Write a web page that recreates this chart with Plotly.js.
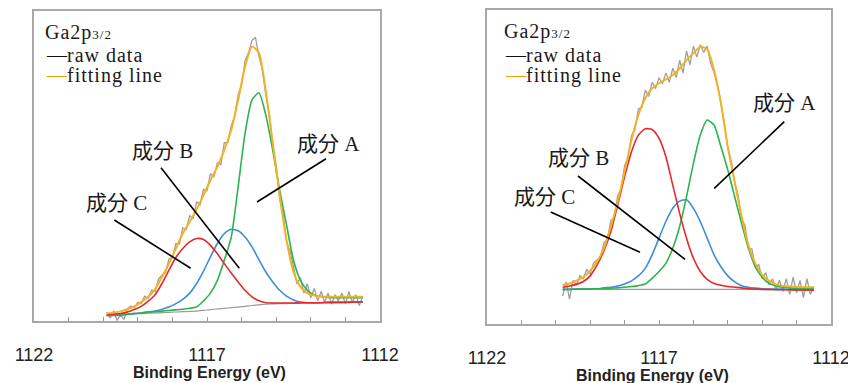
<!DOCTYPE html>
<html>
<head>
<meta charset="utf-8">
<script src="https://cdn.plot.ly/plotly-3.0.1.min.js"></script>
<style>html,body{margin:0;padding:0;background:#fff;}#chart{width:848px;height:383px;}</style>
</head>
<body>
<div id="chart"></div>
<script>
// ---------- DATA ----------
// Left panel: component grid (eV)
const energyLeft = [1119.9,1119.7,1119.5,1119.3,1119.1,1118.9,1118.7,1118.5,1118.3,1118.1,1117.9,1117.7,1117.5,1117.3,1117.1,1116.9,1116.7,1116.5,1116.3,1116.1,1115.9,1115.7,1115.5,1115.3,1115.1,1114.9,1114.7,1114.5,1114.3,1114.1,1113.9,1113.7,1113.5,1113.3,1113.1,1112.9,1112.7,1112.5];
const backgroundLeft = [1.8,1.9,2.0,2.2,2.3,2.4,2.5,2.6,2.7,2.8,2.9,3.0,3.1,3.2,3.4,3.7,3.9,4.1,4.3,4.5,4.7,5.0,5.2,5.4,5.5,5.6,5.6,5.7,5.7,5.8,5.8,5.9,5.9,6.0,6.0,6.0,6.1,6.1];
const compALeft = [1.8,1.9,2.0,2.2,2.4,2.6,2.8,3.0,3.2,3.4,3.6,3.8,4.1,4.5,6.5,9.0,13.1,19.6,27.0,43.3,60.5,71.3,73.6,66.4,55.1,42.2,30.9,19.6,13.1,9.9,8.4,7.9,7.6,7.5,7.5,7.5,7.5,7.5];
const compBLeft = [1.8,1.8,1.9,2.2,2.4,2.6,2.9,3.2,3.8,4.5,5.6,7.0,9.0,12.1,16.1,20.7,25.0,28.2,29.6,29.1,27.1,23.9,19.8,15.8,12.6,9.9,8.0,6.8,6.1,5.9,5.9,5.9,6.0,6.0,6.0,6.0,6.1,6.1];
const compCLeft = [2.0,2.2,2.4,2.9,3.7,4.7,6.4,8.5,12.1,16.4,20.5,23.4,25.5,26.6,26.3,24.4,21.7,18.5,15.5,12.6,9.9,7.8,6.5,5.9,5.8,5.8,5.8,5.8,5.9,5.9,5.9,5.9,6.0,6.0,6.0,6.1,6.1,6.2];
const fitLeft = [2.4,2.7,3.1,3.8,4.7,6.1,7.8,10.3,14.2,18.5,23.4,28.2,32.0,36.0,40.6,45.4,49.7,55.1,61.6,71.3,82.0,88.5,86.5,74.0,57.5,40.5,26.0,15.8,11.0,9.0,8.2,7.9,7.8,7.8,7.8,7.8,7.8,7.8];
// Left panel raw data (0.1 eV steps)
const rawEnergyLeft = [1119.9,1119.8,1119.7,1119.6,1119.5,1119.4,1119.3,1119.2,1119.1,1119.0,1118.9,1118.8,1118.7,1118.6,1118.5,1118.4,1118.3,1118.2,1118.1,1118.0,1117.9,1117.8,1117.7,1117.6,1117.5,1117.4,1117.3,1117.2,1117.1,1117.0,1116.9,1116.8,1116.7,1116.6,1116.5,1116.4,1116.3,1116.2,1116.1,1116.0,1115.9,1115.8,1115.7,1115.6,1115.5,1115.4,1115.3,1115.2,1115.1,1115.0,1114.9,1114.8,1114.7,1114.6,1114.5,1114.4,1114.3,1114.2,1114.1,1114.0,1113.9,1113.8,1113.7,1113.6,1113.5,1113.4,1113.3,1113.2,1113.1,1113.0,1112.9,1112.8,1112.7,1112.6,1112.5];
const rawLeft = [2.9,1.0,3.2,0.2,2.0,0.5,4.0,4.8,4.2,6.0,5.6,8.0,7.3,10.0,9.5,13.5,14.8,15.5,20.0,20.5,25.0,24.8,30.0,29.5,34.0,33.0,38.5,37.5,42.5,42.0,47.5,46.5,51.0,50.5,57.5,57.5,63.0,66.0,73.0,76.0,84.0,86.5,90.5,91.5,85.5,81.0,73.0,67.0,56.5,50.0,39.5,34.5,25.5,22.5,17.5,12.0,14.0,9.0,12.0,7.5,10.5,6.5,9.5,6.0,9.0,5.5,8.5,6.5,9.0,5.5,9.5,6.0,8.5,5.0,8.0];

// Right panel: component grid (eV)
const energyRight = [1119.8,1119.6,1119.4,1119.2,1119.0,1118.8,1118.6,1118.4,1118.2,1118.0,1117.8,1117.6,1117.4,1117.2,1117.0,1116.8,1116.6,1116.4,1116.2,1116.0,1115.8,1115.6,1115.4,1115.2,1115.0,1114.8,1114.6,1114.4,1114.2,1114.0,1113.8,1113.6,1113.4,1113.2,1113.0,1112.8,1112.6,1112.5];
const backgroundRight = [11.1,11.1,11.1,11.1,11.1,11.1,11.1,11.1,11.1,11.1,11.1,11.1,11.1,11.1,11.1,11.1,11.1,11.1,11.1,11.1,11.1,11.1,11.1,11.1,11.1,11.1,11.1,11.1,11.1,11.1,11.0,11.0,11.0,11.0,10.9,10.9,10.9,10.9];
const compARight = [11.1,11.1,11.2,11.2,11.3,11.3,11.3,11.5,11.6,11.8,12.0,12.3,12.8,14.6,16.8,19.4,24.2,31.1,40.6,51.2,60.2,65.0,63.4,56.5,49.1,40.6,32.1,24.2,18.3,15.0,13.0,12.2,11.8,11.6,11.5,11.5,11.3,11.3];
const compBRight = [11.1,11.1,11.2,11.2,11.3,11.3,11.6,11.8,12.2,12.8,13.8,15.4,17.8,22.1,27.4,32.7,36.9,39.2,39.6,36.9,32.7,27.4,22.1,18.3,15.4,13.5,12.3,11.8,11.5,11.3,11.2,11.2,11.2,11.1,11.1,11.1,11.1,11.1];
const compCRight = [11.8,12.2,12.7,13.6,15.4,18.9,23.4,29.5,38.0,47.0,54.9,60.2,62.2,62.0,59.2,53.3,44.3,35.3,27.4,21.0,16.8,14.3,13.0,12.4,12.0,11.8,11.6,11.3,11.2,11.1,11.1,11.0,11.0,11.0,10.9,10.9,10.9,10.8];
const fitRight = [12.5,13.0,13.9,15.0,17.1,19.9,24.2,31.1,39.0,48.6,58.6,66.6,71.9,75.1,76.7,77.9,79.3,81.4,84.1,86.2,88.3,87.5,80.9,70.3,56.5,45.4,34.3,25.2,19.4,15.7,13.8,12.7,12.2,12.0,11.9,11.8,11.8,11.8];
const rawEnergyRight = [1119.8,1119.7,1119.6,1119.5,1119.4,1119.3,1119.2,1119.1,1119.0,1118.9,1118.8,1118.7,1118.6,1118.5,1118.4,1118.3,1118.2,1118.1,1118.0,1117.9,1117.8,1117.7,1117.6,1117.5,1117.4,1117.3,1117.2,1117.1,1117.0,1116.9,1116.8,1116.7,1116.6,1116.5,1116.4,1116.3,1116.2,1116.1,1116.0,1115.9,1115.8,1115.7,1115.6,1115.5,1115.4,1115.3,1115.2,1115.1,1115.0,1114.9,1114.8,1114.7,1114.6,1114.5,1114.4,1114.3,1114.2,1114.1,1114.0,1113.9,1113.8,1113.7,1113.6,1113.5,1113.4,1113.3,1113.2,1113.1,1113.0,1112.9,1112.8,1112.7,1112.6,1112.5];
const rawRight = [9.0,13.5,8.0,14.0,12.5,15.5,14.5,17.5,16.0,19.5,20.5,21.5,26.0,27.0,33.0,34.0,41.0,43.0,50.5,53.0,60.0,62.0,68.5,69.0,74.5,72.5,77.0,75.0,78.5,76.5,80.0,77.0,81.5,78.5,84.0,80.0,87.0,82.5,88.5,85.0,89.0,86.5,88.5,83.0,80.0,76.0,70.5,64.0,56.0,52.0,45.0,41.0,33.5,31.5,24.0,24.0,18.0,19.0,14.5,16.5,12.5,14.5,11.0,14.0,10.5,14.5,9.5,15.0,10.0,14.0,8.5,14.5,9.5,12.0];

// Tick labels
const tickValues = [1122, 1117, 1112];
const tickLabels = ['1122', '1117', '1112'];
const axisTitle = 'Binding Energy (eV)';
const LS = '<span style="letter-spacing:1px">';
const peakTitle = LS + 'Ga2p<span style="font-size:13px">3/2</span></span>';
const legendRaw = '<span style="color:#111">—</span>' + LS + 'raw data</span>';
const legendFit = '<span style="color:#f0a000">—</span>' + LS + 'fitting line</span>';
const compLabels = ['成分 A', '成分 B', '成分 C'];

// ---------- STYLE / LAYOUT ----------
const W = 848, H = 383;
const C = {raw:'#9e9e9e', bg:'#9a9a9a', A:'#2db34e', B:'#3b8fd9', C:'#e8262b', fit:'#f2b224'};
const serif = 'Liberation Serif, Noto Sans CJK JP, serif';
const sans = 'Liberation Sans, Arial, sans-serif';
const P = (px, py) => ({x: px / W, y: 1 - py / H});

function series(xs, ys, color, width, xa, ya) {
  return {x: xs, y: ys, type: 'scatter', mode: 'lines', xaxis: xa, yaxis: ya,
    line: {color: color, width: width, shape: 'spline', smoothing: 0.6}, hoverinfo: 'skip'};
}
function rawSeries(xs, ys, xa, ya) {
  return {x: xs, y: ys, type: 'scatter', mode: 'lines', xaxis: xa, yaxis: ya,
    line: {color: C.raw, width: 1.3}, hoverinfo: 'skip'};
}

const data = [
  rawSeries(rawEnergyLeft, rawLeft, 'x', 'y'),
  series(energyLeft, backgroundLeft, C.bg, 1.2, 'x', 'y'),
  series(energyLeft, compBLeft, C.B, 1.6, 'x', 'y'),
  series(energyLeft, compALeft, C.A, 1.6, 'x', 'y'),
  series(energyLeft, compCLeft, C.C, 1.6, 'x', 'y'),
  series(energyLeft, fitLeft, C.fit, 2, 'x', 'y'),
  rawSeries(rawEnergyRight, rawRight, 'x2', 'y2'),
  series(energyRight, backgroundRight, C.bg, 1.2, 'x2', 'y2'),
  series(energyRight, compBRight, C.B, 1.6, 'x2', 'y2'),
  series(energyRight, compARight, C.A, 1.6, 'x2', 'y2'),
  series(energyRight, compCRight, C.C, 1.6, 'x2', 'y2'),
  series(energyRight, fitRight, C.fit, 2, 'x2', 'y2')
];

function xAxis(x0, x1, anchor) {
  return {domain: [x0 / W, x1 / W], anchor: anchor, range: [1122, 1112],
    tickmode: 'array', tickvals: tickValues, ticktext: tickLabels,
    ticks: 'inside', ticklen: 4, tickwidth: 1, tickcolor: '#999',
    minor: {tickmode: 'linear', tick0: 1112, dtick: 1, ticks: 'inside', ticklen: 4, tickwidth: 1, tickcolor: '#999', showgrid: false},
    ticklabelstandoff: 16, ticklabeloverflow: 'allow',
    tickfont: {family: sans, size: 18, color: '#222'},
    showline: true, mirror: true, linecolor: '#a8a8a8', linewidth: 2,
    showgrid: false, zeroline: false, fixedrange: true};
}
function yAxis(y0, y1, anchor) {
  return {domain: [1 - y1 / H, 1 - y0 / H], anchor: anchor, range: [0, 100],
    showticklabels: false, ticks: '', showline: true, mirror: true,
    linecolor: '#a8a8a8', linewidth: 2, showgrid: false, zeroline: false, fixedrange: true};
}

function txt(text, pos, size, xanchor, family, color) {
  return {text: text, xref: 'paper', yref: 'paper', x: pos.x, y: pos.y,
    xanchor: xanchor || 'center', yanchor: 'middle', showarrow: false,
    font: {family: family || serif, size: size, color: color || '#1a1a1a'}};
}
function leader(p0, p1) {
  const a = P(p0[0], p0[1]), b = P(p1[0], p1[1]);
  return {type: 'line', xref: 'paper', yref: 'paper', x0: a.x, y0: a.y, x1: b.x, y1: b.y,
    line: {color: '#000', width: 1.6}};
}

const annotations = [
  // left panel
  txt(peakTitle, P(42.7, 33), 20, 'left'),
  txt(legendRaw, P(44, 55), 20, 'left'),
  txt(legendFit, P(44, 75.5), 20, 'left'),
  txt(compLabels[0], P(328, 144), 21),
  txt(compLabels[1], P(162, 151), 21),
  txt(compLabels[2], P(116, 203), 21),
  txt(axisTitle, P(209, 372), 16, 'center', sans, '#222'),
  // right panel
  txt(peakTitle, P(502.3, 31.5), 20, 'left'),
  txt(legendRaw, P(503, 55), 20, 'left'),
  txt(legendFit, P(503, 75.5), 20, 'left'),
  txt(compLabels[0], P(784, 102.7), 21),
  txt(compLabels[1], P(578, 158.3), 21),
  txt(compLabels[2], P(544.7, 197.3), 21),
  txt(axisTitle, P(652, 375.5), 16, 'center', sans, '#222')
];
annotations[6].font.weight = 'bold';
annotations[13].font.weight = 'bold';

const shapes = [
  leader([326, 158.7], [257, 202]),
  leader([161, 167.7], [239.3, 268.3]),
  leader([114.3, 220], [190.7, 268.3]),
  leader([784.3, 121.7], [714.3, 188.3]),
  leader([578, 176], [685, 259.3]),
  leader([550.7, 212], [640, 252.3])
];

const layout = {
  width: W, height: H, margin: {l: 0, r: 0, t: 0, b: 0},
  paper_bgcolor: '#fff', plot_bgcolor: '#fff', showlegend: false,
  xaxis: xAxis(34, 380, 'y'),
  yaxis: yAxis(11, 321, 'x'),
  xaxis2: xAxis(487, 831, 'y2'),
  yaxis2: yAxis(10, 324.3, 'x2'),
  annotations: annotations, shapes: shapes
};

Plotly.newPlot('chart', data, layout, {displayModeBar: false, staticPlot: true});
</script>
</body>
</html>
